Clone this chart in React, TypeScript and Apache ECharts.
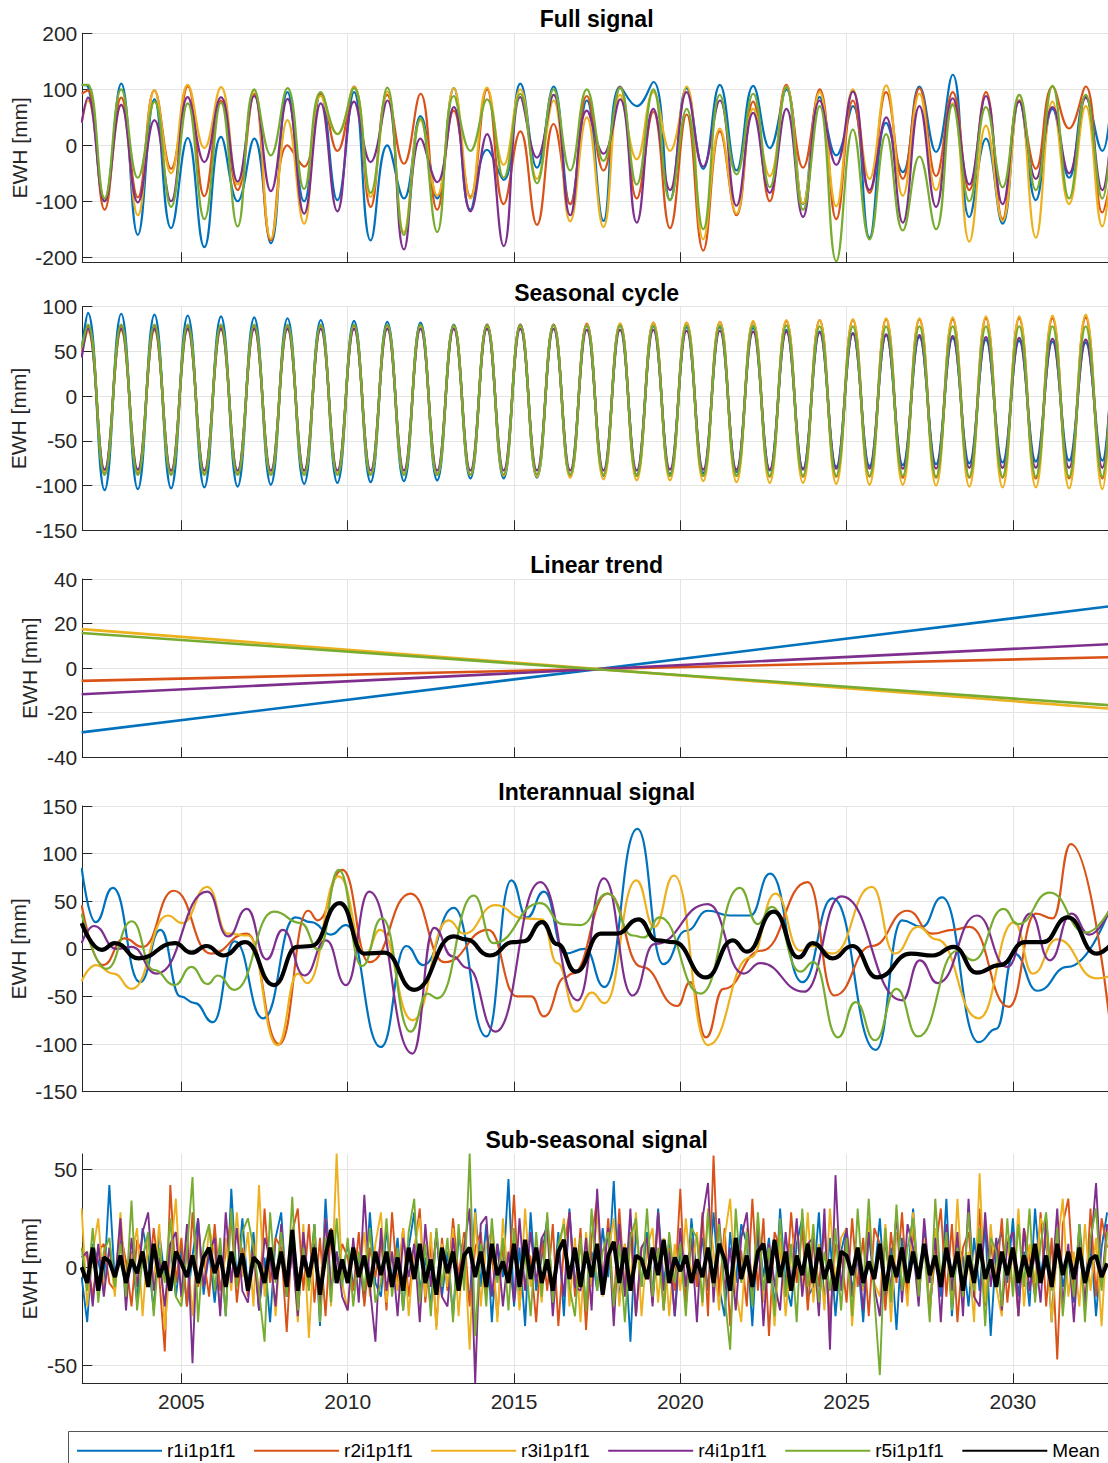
import React, { useEffect, useRef } from 'react';
import * as echarts from 'echarts';

// ---------- categories / labels ----------
const SERIES_NAMES = ['r1i1p1f1', 'r2i1p1f1', 'r3i1p1f1', 'r4i1p1f1', 'r5i1p1f1'];
const MEAN_NAME = 'Mean';
const PANEL_TITLES = ['Full signal', 'Seasonal cycle', 'Linear trend', 'Interannual signal', 'Sub-seasonal signal'];
const Y_NAME = 'EWH [mm]';
const X_TICKS = [2005, 2010, 2015, 2020, 2025, 2030];
const Y_TICKS_FULL = [-200, -100, 0, 100, 200];
const Y_TICKS_SEAS = [-150, -100, -50, 0, 50, 100];
const Y_TICKS_TREND = [-40, -20, 0, 20, 40];
const Y_TICKS_INTER = [-150, -100, -50, 0, 50, 100, 150];
const Y_TICKS_SUB = [-50, 0, 50];

// time range
const T_START = 2002.0;
const T_END = 2032.95;
const PEAK_OFFSET = 0.19;
const TROUGH_OFFSET = 0.69;

// ---------- Full signal: [start, (peak, trough) per year 2002..2032, end] ----------
const FULL_R1 = [108,
  105, -100, 110, -160, 82, -148, 13, -182, 15, -100, 12, -175, 95, -100, 92, -98, 95, -170, 0, -95,
  52, -95, 102, -115, -8, -62, 110, -40, 105, -105, 80, -135, 105, 70, 113, -98, 102, -42, 108, -45,
  106, -5, 100, -105, 86, -18, 70, -165, 40, -48, 105, -12, 126, -128, 12, -140, 80, -98, 65, -58,
  86, -10,
  80];
const FULL_R2 = [92,
  98, -115, 85, -93, 98, -42, 105, -91, 80, -80, 92, -170, 0, -38, 92, -10, 105, -110, 90, -33,
  92, -115, 62, -92, 100, -105, 25, -142, 38, -105, 88, -45, 104, -95, 60, -148, 55, -188, 25, -125,
  78, -100, 108, -40, 100, -132, 80, -85, 95, -60, 102, -55, 95, -80, 95, -132, 80, -42, 105, 30,
  105, -120,
  -60];
const FULL_R3 = [40,
  80, -95, 72, -125, 98, -50, 108, -5, 104, -70, 98, -167, 45, -140, 88, 20, 104, -92, 96, -155,
  45, -90, 102, -95, 103, -35, 100, -60, 80, -136, 50, -146, 90, -25, 95, -10, 105, -168, 30, -122,
  65, -55, 105, -104, 95, -109, 100, -60, 107, -90, 92, -80, 75, -172, 35, -135, 90, -165, 78, -105,
  70, -145,
  -30];
const FULL_R4 = [40,
  85, -100, 72, -102, 45, -100, 86, -30, 86, -65, 88, -82, 83, -122, 75, -118, 78, -30, 80, -186,
  12, -66, 68, -118, 20, -180, 86, -22, 90, -125, 62, -15, 82, -138, 65, -80, 95, -38, 80, -108,
  58, -85, 65, -128, 80, -35, 96, -80, 50, -138, 70, -110, 84, -70, 88, -105, 78, -60, 68, -50,
  85, -80,
  20];
const FULL_R5 = [108,
  108, -95, 100, -58, 78, -110, 75, -132, 76, -145, 100, -18, 102, -78, 95, 20, 102, -85, 103, -160,
  48, -155, 88, -10, 82, -58, 92, -68, 100, -45, 100, -28, 102, -70, 100, -98, 65, -150, 90, -52,
  92, -75, 104, -115, 70, -207, 28, -168, 20, -152, -20, -150, 72, -100, 68, -75, 90, -80, 106, -95,
  90, -95,
  20];

// ---------- Seasonal cycle: [start, (peak, trough) per year, end] ----------
const SEAS_R1 = [50,
  93, -105, 92, -104, 91, -103, 90, -102, 89, -101, 88, -99, 87, -98, 85, -97, 84, -96, 83, -95,
  82, -94, 80, -92, 80, -92, 80, -91, 80, -90, 79, -89, 79, -88, 78, -87, 77, -86, 77, -85,
  76, -83, 74, -81, 72, -79, 70, -78, 68, -77, 66, -76, 65, -75, 63, -74, 62, -73, 61, -72,
  60, -72,
  20];
const SEAS_R2 = [52,
  78, -86, 78, -86, 78, -87, 78, -87, 78, -87, 78, -87, 78, -87, 78, -87, 78, -87, 79, -87,
  79, -87, 79, -88, 80, -88, 80, -88, 80, -88, 81, -88, 81, -89, 82, -89, 82, -89, 83, -89,
  83, -90, 84, -90, 85, -90, 85, -90, 86, -91, 86, -91, 86, -91, 87, -91, 87, -92, 87, -92,
  88, -92,
  22];
const SEAS_R3 = [50,
  72, -84, 73, -84, 73, -85, 74, -85, 74, -85, 75, -86, 75, -86, 76, -86, 76, -87, 76, -87,
  77, -88, 77, -88, 78, -89, 78, -90, 79, -91, 80, -93, 81, -94, 82, -94, 82, -95, 83, -96,
  84, -97, 85, -97, 85, -98, 86, -99, 87, -99, 87, -100, 88, -101, 89, -102, 89, -102, 90, -103,
  91, -104,
  24];
const SEAS_R4 = [43,
  75, -82, 75, -82, 75, -83, 75, -83, 75, -83, 75, -83, 75, -83, 75, -83, 75, -83, 75, -83,
  75, -83, 75, -83, 75, -83, 75, -83, 75, -83, 74, -83, 74, -83, 74, -82, 73, -82, 73, -82,
  72, -82, 72, -82, 71, -81, 70, -81, 69, -81, 68, -81, 67, -80, 66, -80, 65, -80, 64, -80,
  63, -80,
  18];
const SEAS_R5 = [54,
  80, -88, 80, -88, 80, -88, 80, -88, 80, -88, 80, -88, 80, -88, 80, -88, 80, -88, 80, -88,
  80, -88, 79, -88, 79, -88, 79, -88, 79, -88, 79, -88, 79, -89, 79, -89, 79, -89, 79, -89,
  79, -89, 79, -89, 78, -89, 78, -89, 78, -89, 78, -90, 78, -90, 78, -90, 78, -90, 78, -90,
  78, -90,
  22];

// ---------- Linear trend (start / end values) ----------
const TREND_START = [-28.8, -5.7, 17.5, -11.7, 15.8];
const TREND_END = [27.8, 4.9, -18.2, 10.8, -16.7];

// ---------- Interannual signal: [time, value] ----------
const INTER_R1 = [[2002.0, 85], [2002.42, 28], [2002.94, 64], [2003.76, -35], [2004.37, 20], [2004.97, -50], [2005.4, -57], [2005.95, -77], [2006.6, 8], [2007.46, -73], [2008.43, 33], [2008.9, 28], [2009.5, 15], [2009.95, 25], [2011.0, -103], [2011.76, 3], [2012.27, -17], [2013.19, 43], [2014.17, -92], [2014.92, 72], [2015.39, 33], [2015.9, 60], [2016.54, -5], [2017.13, 0], [2017.72, -40], [2018.71, 126], [2019.49, -16], [2020.18, 19], [2020.83, 40], [2021.5, 35], [2022.1, 35], [2022.7, 79], [2023.67, -35], [2024.58, 53], [2025.88, -106], [2026.67, 30], [2027.26, 23], [2027.87, 54], [2028.97, -98], [2029.5, -84], [2030.04, -5], [2030.74, -44], [2031.65, -19], [2032.95, 45]];
const INTER_R2 = [[2002.0, 46], [2002.64, -17], [2003.29, 11], [2003.83, 2], [2004.77, 61], [2005.89, -5], [2006.97, 16], [2007.94, -100], [2008.81, 40], [2009.1, 30], [2009.84, 83], [2010.65, -14], [2011.89, 58], [2012.92, -14], [2014.22, 20], [2015.09, -50], [2015.52, -50], [2015.9, -71], [2016.54, -30], [2016.75, -26], [2017.82, 58], [2018.84, -19], [2019.91, -60], [2020.3, -35], [2020.77, -93], [2021.3, -42], [2022.43, -2], [2023.83, 70], [2024.63, -49], [2025.76, 3], [2026.83, 40], [2027.58, 16], [2028.2, 20], [2028.7, 23], [2029.88, -61], [2030.69, 37], [2031.2, 32], [2031.74, 110], [2032.95, -88]];
const INTER_R3 = [[2002.0, -34], [2002.42, -17], [2002.96, -26], [2003.51, -42], [2004.59, 35], [2005.02, 27], [2005.78, 65], [2006.4, 16], [2007.0, 14], [2007.89, -101], [2008.5, -26], [2008.78, -36], [2009.73, 76], [2010.54, -5], [2010.97, 20], [2011.95, -75], [2013.03, 30], [2013.5, 16], [2014.44, 46], [2015.3, 32], [2015.84, 31], [2016.3, -15], [2016.86, -66], [2017.34, -46], [2017.72, -57], [2018.68, 72], [2019.22, 23], [2019.81, 77], [2020.83, -101], [2022.11, -9], [2022.86, 58], [2023.61, -2], [2024.0, 3], [2024.58, -5], [2025.76, 65], [2026.45, -5], [2027.15, 23], [2027.7, 10], [2028.97, -73], [2030.04, 28], [2030.6, -26], [2031.33, 10], [2032.51, -31], [2032.95, -28]];
const INTER_R4 = [[2002.0, 6], [2002.37, 24], [2003.05, 0], [2003.5, 2], [2004.26, -26], [2005.78, 60], [2006.4, 13], [2006.97, 42], [2007.56, -11], [2008.05, 20], [2008.7, -28], [2009.35, 9], [2009.95, -38], [2010.65, 60], [2011.95, -110], [2012.6, 22], [2013.15, -8], [2013.6, -20], [2014.44, -87], [2015.79, 70], [2016.91, -54], [2017.7, 74], [2018.57, -49], [2019.22, 5], [2020.83, 47], [2021.9, -26], [2022.4, -15], [2023.72, -45], [2024.84, 55], [2026.67, -54], [2027.2, -12], [2027.74, -36], [2028.92, 35], [2029.83, -19], [2030.52, 37], [2031.11, -12], [2031.76, 37], [2032.3, 15], [2032.95, 44]];
const INTER_R5 = [[2002.0, 37], [2002.75, -21], [2003.51, 29], [2004.16, -22], [2004.8, -38], [2005.3, -19], [2005.78, -37], [2006.1, -28], [2006.59, -43], [2007.78, 39], [2008.59, 27], [2009.13, -1], [2009.73, 83], [2010.43, -18], [2011.03, 32], [2011.89, -87], [2012.4, -47], [2012.7, -52], [2013.79, 56], [2014.38, 6], [2015.79, 48], [2016.47, 26], [2017.0, 25], [2017.82, 58], [2018.57, 14], [2018.9, 12], [2019.38, 33], [2020.61, -47], [2021.79, 64], [2022.33, 26], [2022.75, 44], [2023.61, -24], [2024.0, -14], [2024.74, -93], [2025.27, -56], [2025.86, -96], [2026.5, -42], [2027.15, -92], [2028.33, -2], [2028.8, -12], [2029.72, 42], [2030.15, 26], [2031.11, 59], [2032.19, 17], [2032.95, 44]];
const INTER_MEAN = [[2002.0, 27], [2002.6, -1], [2003.0, 6], [2003.72, -10], [2004.8, 6], [2005.3, -4], [2005.75, 3], [2006.27, -7], [2006.92, 7], [2007.78, -38], [2008.48, 2], [2008.9, 3], [2009.76, 48], [2010.5, -5], [2011.1, -4], [2012.0, -43], [2013.19, 13], [2013.55, 10], [2014.27, -7], [2014.98, 7], [2015.3, 8], [2015.84, 28], [2016.3, 5], [2016.86, -24], [2017.61, 16], [2018.1, 16], [2018.74, 31], [2019.3, 9], [2019.8, 7], [2020.77, -30], [2021.58, 9], [2022.0, -3], [2022.81, 39], [2023.56, -9], [2023.98, 6], [2024.58, -10], [2025.17, 3], [2025.92, -30], [2026.93, -5], [2027.6, -7], [2028.22, 2], [2028.92, -25], [2029.61, -17], [2030.36, 7], [2030.9, 7], [2031.65, 33], [2032.51, -5], [2032.95, 5]];

// ---------- Sub-seasonal signal: values every 2 months from 2002.0 ----------
const SUB_STEP = 1 / 6;
const SUB_R1 = [
  -5, -28, 12, 3, -10, 42, -8, 15, -12, 8, -18, 20, 5, -22, 18, -6, 12, -15, 10, -20, 6, 25, -14, 8,
  -18, 12, -25, 40, -8, 25, -12, 18, -22, 5, -28, 15, 28, -15, 10, -20, 15, -8, 22, -30, 35, -12, 8, -5,
  12, -10, 5, -18, 28, -8, -15, 20, -8, 15, -22, 10, 28, -12, 5, -20, 18, -15, 8, -25, 15, 5, -18, 30,
  -10, 22, -28, 12, -5, 45, -20, 10, -30, 28, -12, 5, 25, -15, 18, -25, 30, -10, 15, -22, 8, -12, 20, -5,
  44, -18, 12, -38, 20, -10, 18, -15, 30, -8, 12, -25, 10, -20, 25, -5, 15, -12, 28, -10, -25, 18, -8, 22,
  12, -30, 20, -5, 15, -22, 30, -8, -20, 12, 25, -15, -10, 28, -18, 15, -25, 8, 20, -12, 5, -28, 18, -5,
  25, -18, 10, -32, 15, -8, 30, -10, 18, -22, 8, -15, 35, -25, 12, 5, -20, 15, -12, 22, -35, 10, 18, -8,
  25, -15, 8, -20, 30, -5, 15, -28, 20, -10, 5, -18, 22, -8, 15, -25, 10, 28];
const SUB_R2 = [
  10, 5, -15, 8, 12, -8, -12, 18, 3, -20, 14, 6, -10, 20, -5, -43, 42, -8, 15, -20, 28, -10, 5, -15,
  22, -12, 8, 25, -18, 10, -15, 12, -20, 30, -8, 15, 10, -33, 18, 30, -12, 22, -18, 15, -25, 20, -8, 12,
  5, -12, 18, -20, 10, -5, 15, -22, 28, -10, 20, -15, 8, 30, -18, 12, -30, 15, -12, 25, -5, 18, -20, 10,
  18, -15, 8, -25, 12, -8, 37, -20, 10, 5, -28, 15, -12, 22, -30, 10, 28, -15, 20, -32, 15, 35, -10, 25,
  -20, 30, -12, 18, -25, 10, 15, -18, 28, -22, 10, -12, 40, -20, 15, -10, 28, -25, 57, -15, 20, -30, 12, 8,
  -20, 35, -12, 25, -35, 18, 10, -15, 28, -8, 20, -22, 15, -10, 22, -28, 12, 8, -18, 25, -10, 15, -25, 20,
  12, -22, 18, -8, 28, -15, 20, -10, 15, -22, 8, 30, -15, 22, -28, 10, 18, -12, 30, -20, 12, -8, 25, -18,
  10, -25, 20, 5, -15, 28, -20, 15, -47, 22, 35, -10, 18, -22, 30, -15, 25, 10];
const SUB_R3 = [
  30, -20, 8, 25, -12, 10, -15, 28, -10, 5, 20, -25, 15, -8, 22, -32, 5, 35, -18, 12, -25, 18, -10, 20,
  8, -22, 15, -12, 28, -5, 18, -20, 42, -15, 10, -25, 20, -8, 12, -28, 22, -36, 15, -12, 25, -20, 58, -8,
  -22, 10, -5, 18, -15, 12, 28, -18, 8, -12, 20, -25, 10, 25, -15, 18, -32, 12, -10, 20, -25, 15, -42, 28,
  -20, 12, 18, -28, 25, -8, 15, -22, 30, -10, 8, -18, 22, -12, 5, 25, -20, 15, -28, 18, -10, 30, -15, 8,
  25, -20, 12, -8, 28, -25, 10, 20, -18, 15, -25, 12, -12, 25, -5, 18, -20, 30, 8, -22, 15, 35, -12, -28,
  20, -10, 25, -18, 12, -30, 15, -25, 8, 20, -12, 28, -18, 12, -22, 30, -8, 15, 20, -30, 10, -12, 25, -8,
  -15, 22, -28, 18, 5, -20, 28, -12, 15, -25, 20, -5, 12, -20, 35, -15, 8, -28, 48, -18, 22, -10, -25, 15,
  -12, 30, -20, 12, -8, 25, 18, -28, 10, 35, -15, 8, -20, 22, -12, 15, -30, 20];
const SUB_R4 = [
  5, 8, -20, 12, -15, 10, -8, 25, -22, 15, -10, 18, 28, -12, 5, -20, 12, 18, -15, 22, -49, 25, -10, 8,
  15, -25, 28, -8, 20, -12, -18, 10, -22, 15, 5, -20, 22, -15, 8, -25, 18, -10, 12, -20, 25, -12, 8, -15,
  -22, 15, -18, 37, -10, -38, 20, -12, 8, -25, 15, -5, 12, -28, 22, -10, 18, -15, -20, 15, -8, 10, 30, -59,
  22, 26, -15, 12, -20, 8, -18, 25, -12, 18, -8, 15, 20, -25, 10, -15, 28, -10, -12, 15, -22, 40, -8, 20,
  -30, 22, -15, 30, -25, 10, 15, -20, 28, -12, 8, -25, 20, -10, 15, -28, 25, 43, -18, 25, -12, 10, -22, 15,
  28, -15, 20, -30, 12, -8, -22, 18, -10, 25, -15, 12, 15, -25, 30, -42, 47, -12, 20, -15, 8, -22, 18, -10,
  -25, 15, -12, 28, -18, 22, 10, -20, 25, -8, 15, -28, 22, -12, 18, -25, 35, -15, -20, 28, -10, 15, -22, 12,
  18, -25, 20, -12, 8, -18, 25, -10, 30, -20, 12, -28, 15, -18, 8, 43, -10, 22];
const SUB_R5 = [
  10, -12, 20, -18, 8, 15, -10, 12, -15, 34, -22, 5, 18, -25, 10, -8, 25, -15, -20, 8, 46, -28, 12, 22,
  -12, 15, -25, 30, -10, 18, 25, 10, -12, -38, 28, -8, 18, -15, 36, -22, 10, -12, 22, -28, 15, -18, 25, -10,
  15, -20, 8, -12, 20, -18, -8, 25, -15, 10, -22, 18, 35, -18, 12, -25, 20, -10, 15, -28, 22, -12, 58, -35,
  12, -20, 25, -8, 15, -22, 20, -12, 8, -25, 18, -15, 28, -18, 12, 22, -10, -25, 15, -22, 30, -12, 8, 18,
  -20, 12, -28, 15, 25, -10, 30, -15, 10, -22, 18, -8, 12, -25, 20, 15, -18, 28, -10, 22, -15, -42, 30, -8,
  18, -20, 28, -12, 10, -25, 25, -15, 12, -28, 30, -10, 22, -18, 8, -12, 20, -22, 15, -25, 30, -10, 35, -15,
  -55, 20, -18, 32, -12, 10, 25, -15, 12, -28, 35, -8, 18, -22, 10, -15, 28, -12, 20, -30, 15, 8, -20, 25,
  -15, 22, -10, 30, -18, 12, 28, -12, 20, -25, 8, -15, 22, -28, 15, 30, -12, 18];
const SUB_MEAN = [
  0, -8, 10, -12, 5, 3, -5, 6, -8, 4, -3, 8, -10, 12, -5, 3, -12, 8, 2, -5, 6, -8, 5, 10,
  -3, 6, -10, 8, -5, 7, -12, 5, 2, -8, 10, -6, 8, -10, 19, -12, 6, -5, 10, -14, 6, 19, -8, 4,
  -8, 10, -5, 6, -10, 8, -4, 8, -10, 5, -12, 10, -6, 12, -8, 4, -14, 10, -3, 8, -12, 6, 10, -5,
  8, -10, 12, -4, 3, -8, 12, -10, 14, -6, 10, -8, 4, -12, 8, 14, -6, 10, -10, 8, -5, 12, -14, 6,
  13, -8, 10, -12, 6, 4, -6, 10, -4, 14, -8, 5, -2, 6, -8, 4, -5, 10, -8, 12, 4, -12, 15, -6,
  6, -10, 8, 12, -8, 14, -5, 8, -12, 6, -4, 12, -8, 10, -6, 4, -12, 8, 6, -4, 10, -8, 3, -6,
  12, -12, 6, -5, 10, -8, 8, -6, 12, -4, 6, -10, 10, -5, 8, -12, 6, -8, 12, -6, 4, -10, 8, -4,
  10, -8, 6, -5, 12, -8, 6, -10, 12, -4, 8, -6, 10, -8, 4, 6, -5, 2];

// ---------- styling / layout ----------
const COLORS = ['#0072BD', '#D95319', '#EDB120', '#7E2F8E', '#77AC30'];
const MEAN_COLOR = '#000000';
const FONT = '"Liberation Sans", Arial, Helvetica, sans-serif';
const AXIS_COLOR = '#262626';
const GRID_COLOR = '#e4e4e4';
const PLOT_LEFT = 82.3;
const PLOT_WIDTH = 1028.7;
const PLOT_CENTER = PLOT_LEFT + PLOT_WIDTH / 2;

const PANELS = [
  { top: 33.3, height: 229, min: -209, max: 200, ticks: Y_TICKS_FULL, nameGap: 52 },
  { top: 306.7, height: 223.6, min: -150, max: 100, ticks: Y_TICKS_SEAS, nameGap: 53.5 },
  { top: 579, height: 178.3, min: -40, max: 40, ticks: Y_TICKS_TREND, nameGap: 42 },
  { top: 806, height: 285.7, min: -150, max: 150, ticks: Y_TICKS_INTER, nameGap: 53.5 },
  { top: 1154, height: 229.3, min: -59.2, max: 57.8, ticks: Y_TICKS_SUB, nameGap: 42 },
];

function halfYearTimes(): number[] {
  const t: number[] = [T_START];
  for (let y = 2002; y <= 2032; y++) {
    t.push(y + PEAK_OFFSET, y + TROUGH_OFFSET);
  }
  t.push(T_END);
  return t;
}

function buildOption() {
  const ht = halfYearTimes();
  const pair = (vals: number[]) => vals.map((v, i) => [ht[i], v]);
  const subPair = (vals: number[]) => vals.map((v, i) => [T_START + i * SUB_STEP, v]);

  const FULL = [FULL_R1, FULL_R2, FULL_R3, FULL_R4, FULL_R5];
  const SEAS = [SEAS_R1, SEAS_R2, SEAS_R3, SEAS_R4, SEAS_R5];
  const INTER = [INTER_R1, INTER_R2, INTER_R3, INTER_R4, INTER_R5];
  const SUB = [SUB_R1, SUB_R2, SUB_R3, SUB_R4, SUB_R5];

  const base = (name: string, color: string, panel: number, width: number) => ({
    name,
    type: 'line',
    xAxisIndex: panel,
    yAxisIndex: panel,
    symbol: 'none',
    showSymbol: false,
    silent: true,
    emphasis: { disabled: true },
    lineStyle: { color, width },
    itemStyle: { color },
    clip: true,
  });

  const series: any[] = [];
  SERIES_NAMES.forEach((n, k) => {
    series.push({ ...base(n, COLORS[k], 0, 2.2), data: pair(FULL[k]), smooth: 0.45 });
  });
  SERIES_NAMES.forEach((n, k) => {
    series.push({ ...base(n, COLORS[k], 1, 2.4), data: pair(SEAS[k]), smooth: 0.45 });
  });
  SERIES_NAMES.forEach((n, k) => {
    series.push({ ...base(n, COLORS[k], 2, 2.6), data: [[T_START, TREND_START[k]], [T_END, TREND_END[k]]] });
  });
  SERIES_NAMES.forEach((n, k) => {
    series.push({ ...base(n, COLORS[k], 3, 2.2), data: INTER[k], smooth: 0.5, smoothMonotone: 'x' });
  });
  series.push({ ...base(MEAN_NAME, MEAN_COLOR, 3, 4.2), data: INTER_MEAN, smooth: 0.5, smoothMonotone: 'x' });
  SERIES_NAMES.forEach((n, k) => {
    series.push({ ...base(n, COLORS[k], 4, 1.9), data: subPair(SUB[k]) });
  });
  series.push({ ...base(MEAN_NAME, MEAN_COLOR, 4, 4), data: subPair(SUB_MEAN) });

  return {
    animation: false,
    backgroundColor: '#ffffff',
    textStyle: { fontFamily: FONT },
    title: PANELS.map((p, i) => ({
      text: PANEL_TITLES[i],
      left: PLOT_CENTER,
      top: p.top - 25.5,
      textAlign: 'center',
      padding: 0,
      textStyle: { fontSize: 23, fontWeight: 'bold', color: '#000', fontFamily: FONT },
    })),
    grid: PANELS.map((p) => ({
      left: PLOT_LEFT,
      top: p.top,
      width: PLOT_WIDTH,
      height: p.height,
      containLabel: false,
      outerBoundsMode: 'none',
      show: false,
    })),
    xAxis: PANELS.map((p, i) => ({
      type: 'value',
      gridIndex: i,
      min: T_START + 0.02,
      max: T_END,
      axisLine: { show: true, onZero: false, lineStyle: { color: AXIS_COLOR, width: 1 } },
      axisTick: { show: true, inside: true, length: 10, customValues: X_TICKS, lineStyle: { color: AXIS_COLOR, width: 1 } },
      axisLabel: {
        show: i === PANELS.length - 1,
        customValues: X_TICKS,
        margin: 8,
        fontSize: 21,
        color: AXIS_COLOR,
        fontFamily: FONT,
        formatter: (v: number) => String(Math.round(v)),
      },
      splitLine: { show: true, lineStyle: { color: GRID_COLOR, width: 1 } },
    })),
    yAxis: PANELS.map((p, i) => ({
      type: 'value',
      gridIndex: i,
      min: p.min,
      max: p.max,
      name: Y_NAME,
      nameLocation: 'middle',
      nameGap: p.nameGap,
      nameMoveOverlap: false,
      nameTextStyle: { fontSize: 21, color: AXIS_COLOR, fontFamily: FONT },
      axisLine: { show: true, onZero: false, lineStyle: { color: AXIS_COLOR, width: 1 } },
      axisTick: { show: true, inside: true, length: 10, customValues: p.ticks, lineStyle: { color: AXIS_COLOR, width: 1 } },
      axisLabel: {
        customValues: p.ticks,
        margin: 5,
        fontSize: 21,
        color: AXIS_COLOR,
        fontFamily: FONT,
        formatter: (v: number) => String(Math.round(v)),
      },
      splitLine: { show: true, lineStyle: { color: GRID_COLOR, width: 1 } },
    })),
    legend: {
      data: [...SERIES_NAMES, MEAN_NAME],
      left: 76,
      top: 1441.3,
      orient: 'horizontal',
      itemWidth: 85,
      itemHeight: 14,
      itemGap: 17.4,
      padding: 0,
      selectedMode: false,
      itemStyle: { opacity: 0 },
      textStyle: { fontSize: 19, color: '#000', fontFamily: FONT },
    },
    graphic: [
      {
        type: 'rect',
        silent: true,
        shape: { x: 68.5, y: 1431.5, width: 1100, height: 80 },
        style: { fill: 'none', stroke: '#555555', lineWidth: 1 },
        z: -1,
      },
    ],
    series,
  };
}

export default function App() {
  const ref = useRef<HTMLDivElement>(null);
  useEffect(() => {
    if (!ref.current) return;
    const chart = echarts.init(ref.current, null, { renderer: 'svg' });
    chart.setOption(buildOption() as any);
    return () => {
      chart.dispose();
    };
  }, []);
  return (
    <div
      ref={ref}
      style={{ position: 'absolute', left: 0, top: 0, width: 1108, height: 1463, background: '#ffffff' }}
    />
  );
}
